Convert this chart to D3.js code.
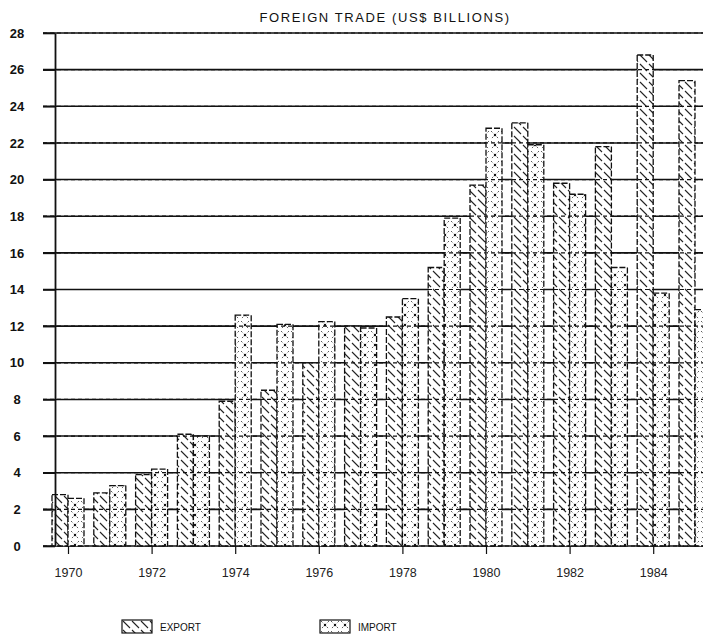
<!DOCTYPE html>
<html><head><meta charset="utf-8">
<script src="https://cdn.jsdelivr.net/npm/d3@7"></script>
<style>body{margin:0;background:#fff}</style>
</head><body>
<svg id="c" width="703" height="644"></svg>
<script>
const years = [1970,1971,1972,1973,1974,1975,1976,1977,1978,1979,1980,1981,1982,1983,1984,1985];
const exportValues = [2.8,2.9,3.9,6.1,7.9,8.5,10.0,12.0,12.5,15.2,19.7,23.1,19.8,21.8,26.8,25.4];
const importValues = [2.6,3.3,4.2,6.0,12.6,12.1,12.25,11.9,13.5,17.9,22.8,21.9,19.2,15.2,13.8,12.9];
const yTicks = [0,2,4,6,8,10,12,14,16,18,20,22,24,26,28];
const xTickYears = [1970,1972,1974,1976,1978,1980,1982,1984];
const seriesNames = ["EXPORT","IMPORT"];
const titleText = "FOREIGN TRADE (US$ BILLIONS)";

const svg = d3.select("#c");
const font = "'Liberation Sans', Arial, sans-serif";

const y = d3.scaleLinear().domain([0,28]).range([546,33]);
const x = d3.scaleLinear().domain([1970,1985]).range([68,695]);
const sub = d3.scaleBand().domain(seriesNames).range([-16,16]);

// patterns
const defs = svg.append("defs");
const pe = defs.append("pattern").attr("id","pExport").attr("patternUnits","userSpaceOnUse").attr("width",9).attr("height",9);
pe.append("rect").attr("width",9).attr("height",9).attr("fill","#fff");
pe.append("path").attr("d","M1,1L8,8").attr("stroke","#222").attr("stroke-width",1.1);
const pi = defs.append("pattern").attr("id","pImport").attr("patternUnits","userSpaceOnUse").attr("width",10).attr("height",10);
pi.append("rect").attr("width",10).attr("height",10).attr("fill","#fff");
pi.append("path").attr("d","M1,1L9,9M9,1L1,9").attr("stroke","#333").attr("stroke-width",0.8).attr("stroke-dasharray","2,2");
pi.append("circle").attr("cx",5).attr("cy",5).attr("r",1.2).attr("fill","#111");

const fills = {EXPORT:"url(#pExport)", IMPORT:"url(#pImport)"};

// title
svg.append("text").attr("x",385).attr("y",22).attr("text-anchor","middle")
  .attr("font-family",font).attr("font-size",13).attr("letter-spacing",1.6).attr("fill","#111").text(titleText);

// solid gridlines
svg.append("g").selectAll("line").data(yTicks).join("line")
  .attr("x1",43).attr("x2",703).attr("y1",d=>y(d)).attr("y2",d=>y(d))
  .attr("stroke","#111").attr("stroke-width",1.6);

// bars
const data = [];
years.forEach((yr,i)=>{
  data.push({year:yr, s:"EXPORT", v:exportValues[i]});
  data.push({year:yr, s:"IMPORT", v:importValues[i]});
});
svg.append("g").selectAll("rect").data(data).join("rect")
  .attr("x",d=>x(d.year)+sub(d.s))
  .attr("y",d=>y(d.v))
  .attr("width",sub.bandwidth())
  .attr("height",d=>y(0)-y(d.v))
  .attr("fill",d=>fills[d.s])
  .attr("stroke","#111").attr("stroke-width",1.3).attr("stroke-dasharray","6,2");

// dashed gridlines over bars
svg.append("g").selectAll("line").data(yTicks).join("line")
  .attr("x1",43).attr("x2",703).attr("y1",d=>y(d)).attr("y2",d=>y(d))
  .attr("stroke","#111").attr("stroke-width",1.2).attr("stroke-dasharray","4,3");

// y axis
const ya = svg.append("g").attr("transform","translate(55,0)")
  .call(d3.axisLeft(y).tickValues(yTicks).tickSize(12).tickSizeOuter(0).tickFormat(d3.format("d")));
ya.select(".domain").attr("stroke","#111").attr("stroke-width",1.8);
ya.selectAll(".tick line").attr("stroke","#111").attr("stroke-width",1.6);
ya.selectAll(".tick text").attr("x",-38).attr("text-anchor","middle")
  .attr("font-family",font).attr("font-size",13).attr("font-weight","bold").attr("fill","#111");

// x axis
const xa = svg.append("g").attr("transform","translate(0,546)")
  .call(d3.axisBottom(x).tickValues(xTickYears).tickSize(8).tickPadding(14).tickFormat(d3.format("d")));
xa.select(".domain").remove();
xa.selectAll(".tick line").attr("stroke","#111").attr("stroke-width",1.2);
xa.selectAll(".tick text").attr("font-family",font).attr("font-size",12.5).attr("fill","#222");

// legend
const legX = d3.scaleOrdinal().domain(seriesNames).range([122,320]);
const leg = svg.append("g").selectAll("g").data(seriesNames).join("g")
  .attr("transform",d=>`translate(${legX(d)},620)`);
leg.append("rect").attr("width",30).attr("height",13).attr("fill",d=>fills[d])
  .attr("stroke","#111").attr("stroke-width",1.2);
leg.append("text").attr("x",38).attr("y",11).attr("font-family",font).attr("font-size",10)
  .attr("fill","#111").text(d=>d);
</script>
</body></html>
